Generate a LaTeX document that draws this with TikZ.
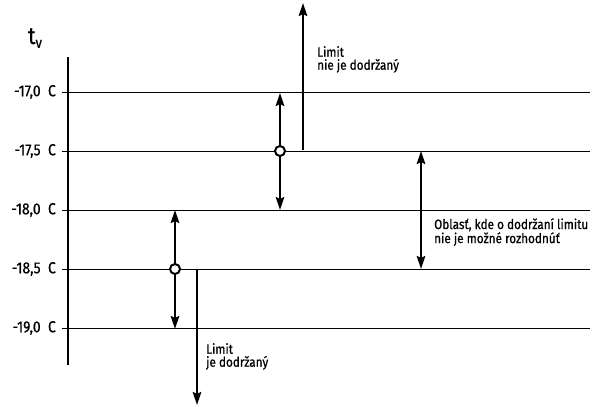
\documentclass[tikz,border=0pt]{standalone}
\usepackage{fontspec}
\setmainfont{Fira Sans}[FakeStretch=0.87,FakeBold=0.6]
\usetikzlibrary{arrows.meta}
\begin{document}
\begin{tikzpicture}[x=1pt,y=-1pt,
  grid/.style={line width=1pt},
  axis/.style={line width=2.2pt},
  tip/.tip={Stealth[length=13pt,width=8.5pt,inset=2pt]},
  arr/.style={line width=2.3pt,-tip},
  darr/.style={line width=2.3pt,tip-tip},
  pt/.style={circle,draw,line width=2pt,fill=white,inner sep=0pt,minimum size=10pt},
  lab/.style={font=\fontsize{16}{18}\selectfont,anchor=east,inner sep=0pt},
  note/.style={font=\fontsize{13.5}{13}\selectfont,align=left,anchor=north west,inner sep=0pt}]
\useasboundingbox (0,0) rectangle (593,405);
% axis
\coordinate (at) at (68,57);
\coordinate (ab) at (68,365);
\draw[axis] (at) -- (ab);
\node[font=\fontsize{24}{26}\selectfont,inner sep=0pt] (tv) at (35,38) {t\raisebox{-0.3ex}{\fontsize{15}{16}\selectfont v}};
% grid lines and labels
\foreach \y/\t [count=\i] in {92/-17{,}0,151/-17{,}5,210/-18{,}0,269/-18{,}5,328/-19{,}0}{
  \coordinate (l\i) at (62,\y);
  \coordinate (r\i) at (590,\y);
  \draw[grid] (l\i) -- (r\i);
  \node[lab] (t\i) at (56,\y) {\t\ \ C};
}
% upper measurement
\coordinate (u1) at (280,93);
\coordinate (u2) at (280,210);
\draw[darr] (u2) -- (u1);
\node[pt] (p1) at (280,151) {};
\coordinate (ua) at (303,150);
\coordinate (ub) at (303,3);
\draw[arr] (ua) -- (ub);
\node[note] (n1) at (317,46) {Limit\\nie je dodržaný};
% uncertainty zone
\coordinate (z1) at (421,151);
\coordinate (z2) at (421,269);
\draw[darr] (z1) -- (z2);
\node[note] (n2) at (434,218) {Oblasť, kde o dodržaní limitu\\nie je možné rozhodnúť};
% lower measurement
\coordinate (d1) at (175,210);
\coordinate (d2) at (175,329);
\draw[darr] (d1) -- (d2);
\node[pt] (p2) at (175,269) {};
\coordinate (da) at (197,270);
\coordinate (db) at (197,405);
\draw[arr] (da) -- (db);
\node[note] (n3) at (206,343) {Limit\\je dodržaný};
\end{tikzpicture}
\end{document}
